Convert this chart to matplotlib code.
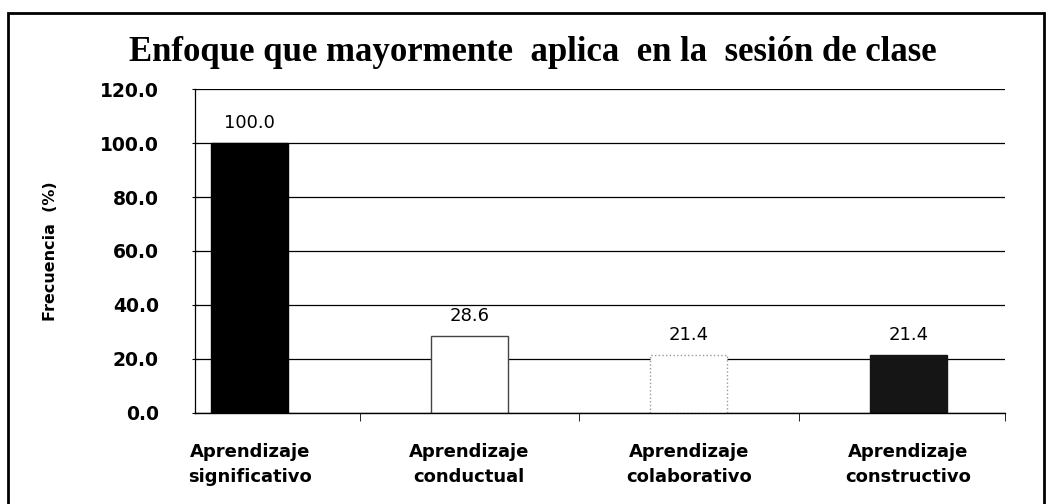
import matplotlib.pyplot as plt
from matplotlib.patches import Rectangle

categorias = ["Aprendizaje\nsignificativo", "Aprendizaje\nconductual",
              "Aprendizaje\ncolaborativo", "Aprendizaje\nconstructivo"]
frecuencia = [100.0, 28.6, 21.4, 21.4]
y_ticks = [0, 20, 40, 60, 80, 100, 120]

fig = plt.figure(figsize=(10.48, 5.04), dpi=100)
ax = fig.add_axes([0.186, 0.181, 0.773, 0.642])

# gridlines behind bars
ax.set_axisbelow(True)
ax.yaxis.grid(True, color='black', linewidth=0.9)

pos = list(range(len(categorias)))
colores = ['black', 'white', 'white', '#151515']
bordes = ['black', '#444444', '#999999', '#151515']
estilos = ['-', '-', ':', '-']
for i in pos:
    ax.bar(i, frecuencia[i], width=0.35, color=colores[i], edgecolor=bordes[i],
           linestyle=estilos[i], linewidth=1.0)
    ax.text(i, frecuencia[i] + 4, f"{frecuencia[i]:.1f}", ha='center', va='bottom',
            fontsize=13, fontfamily='DejaVu Sans')

ax.set_xlim(-0.25, 3.44)
ax.set_ylim(0, 120)
ax.set_yticks(y_ticks)
ax.set_yticklabels([f"{v:.1f}" for v in y_ticks], fontsize=13.5, fontweight='bold')
ax.tick_params(axis='y', length=4, direction='inout', pad=24)

ax.set_xticks(pos)
ax.set_xticklabels(categorias, fontsize=13, fontweight='bold', linespacing=1.45)
ax.tick_params(axis='x', length=0, pad=22)
ax.set_xticks([0.5, 1.5, 2.5, 3.44], minor=True)
ax.tick_params(axis='x', which='minor', length=6, direction='out')

for s in ['top', 'right']:
    ax.spines[s].set_visible(False)
ax.spines['left'].set_linewidth(0.9)
ax.spines['bottom'].set_linewidth(1.0)

ax.set_ylabel("Frecuencia  (%)", fontsize=11.5, fontweight='bold',
              fontfamily='Liberation Sans Narrow', labelpad=30)

fig.text(0.508, 0.895, "Enfoque que mayormente  aplica  en la  sesión de clase",
         ha='center', va='center', fontsize=25, fontweight='bold',
         fontfamily='Liberation Serif')

# outer frame
fig.patches.append(Rectangle((8 / 1048, -0.05), 1036 / 1048, 1 - 13 / 504 + 0.05,
                             transform=fig.transFigure, fill=False,
                             edgecolor='black', linewidth=2))

fig.savefig("out.png", dpi=100)
